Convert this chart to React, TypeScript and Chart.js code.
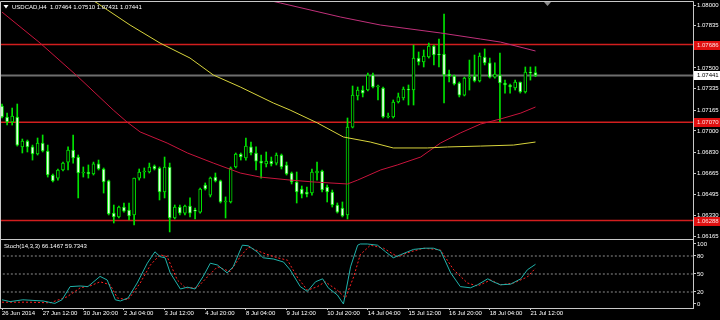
import React, { useEffect, useRef } from "react";
import { Chart, registerables } from "chart.js";

Chart.register(...registerables);

const FONT_FAMILY = "'Liberation Sans', Arial, sans-serif";
const FONT_SIZE = 6;

// ---- Candles (USDCAD H4), bar index 0 .. 105 ----
const opens = [
  1.07198, 1.07111, 1.07071, 1.07111, 1.06873, 1.0692, 1.06873, 1.06817, 1.06904, 1.06841,
  1.0665, 1.06626, 1.0669, 1.06753, 1.06849, 1.06793, 1.06666, 1.06674, 1.06658, 1.06738,
  1.06698, 1.06603, 1.06348, 1.06317, 1.06396, 1.06372, 1.06333, 1.06626, 1.06674, 1.06674,
  1.06722, 1.06706, 1.06515, 1.06714, 1.06309, 1.06396, 1.06348, 1.06404, 1.06372, 1.06356,
  1.06571, 1.06491, 1.06634, 1.06603, 1.06436, 1.06436, 1.06714, 1.06817, 1.06785, 1.06873,
  1.06825, 1.06761, 1.06738, 1.06761, 1.06745, 1.06809, 1.0673, 1.06666, 1.06595, 1.06539,
  1.06515, 1.06507, 1.06666, 1.06682, 1.06555, 1.06515, 1.06412, 1.06388, 1.06333, 1.07031,
  1.07278, 1.07325, 1.07325, 1.07444, 1.07349, 1.07341, 1.07111, 1.07111, 1.0723, 1.07262,
  1.07333, 1.07325, 1.07579, 1.07548, 1.07587, 1.07674, 1.07611, 1.07611, 1.07452, 1.07436,
  1.07381, 1.07285, 1.0742, 1.07436, 1.07397, 1.07587, 1.0754, 1.07428, 1.07444, 1.07381,
  1.07365, 1.07341, 1.07389, 1.07309, 1.07468, 1.07464,
];
const highs = [
  1.07214, 1.07142, 1.07182, 1.07214, 1.06936, 1.06928, 1.06888, 1.06944, 1.06968, 1.06888,
  1.06658, 1.06698, 1.06753, 1.06873, 1.06968, 1.06809, 1.06714, 1.0673, 1.06753, 1.06769,
  1.06706, 1.0661, 1.06412, 1.06404, 1.06428, 1.06428, 1.06626, 1.06698, 1.06706, 1.06745,
  1.0673, 1.06714, 1.06793, 1.06745, 1.06412, 1.06412, 1.06412, 1.06468, 1.06388, 1.06547,
  1.06587, 1.06634, 1.06666, 1.0661, 1.06476, 1.06714, 1.06825, 1.06825, 1.06944, 1.06912,
  1.06873, 1.06809, 1.06833, 1.06793, 1.06825, 1.06817, 1.06753, 1.06674, 1.06674, 1.06563,
  1.06555, 1.06698, 1.06753, 1.0669, 1.06571, 1.06531, 1.06428, 1.06436, 1.07103, 1.07357,
  1.07349, 1.07357, 1.0746, 1.0746, 1.07365, 1.07349, 1.07142, 1.07246, 1.07301, 1.07349,
  1.07365, 1.07682, 1.07627, 1.07643, 1.07698, 1.07682, 1.0773, 1.07929, 1.07484, 1.07444,
  1.07389, 1.07428, 1.07563, 1.07603, 1.07619, 1.07651, 1.07579, 1.0754, 1.07619, 1.07404,
  1.07373, 1.07404, 1.07389, 1.07508, 1.07508, 1.0751,
];
const lows = [
  1.07103, 1.07047, 1.07047, 1.0688, 1.06825, 1.06833, 1.06769, 1.06809, 1.06833, 1.06634,
  1.06595, 1.0661, 1.06682, 1.0669, 1.06745, 1.06468, 1.06634, 1.06626, 1.0665, 1.0669,
  1.06507, 1.06333, 1.06269, 1.06309, 1.06356, 1.06293, 1.06254, 1.0661, 1.06626, 1.06666,
  1.0669, 1.06452, 1.06468, 1.06198, 1.06301, 1.06333, 1.06333, 1.06317, 1.06301, 1.06348,
  1.06531, 1.06476, 1.06595, 1.06428, 1.06309, 1.06428, 1.06706, 1.06769, 1.06769, 1.06809,
  1.0669, 1.06626, 1.06714, 1.06722, 1.0673, 1.06698, 1.0665, 1.06579, 1.06428, 1.06468,
  1.06476, 1.06491, 1.0661, 1.06515, 1.06436, 1.06396, 1.06348, 1.06317, 1.06301, 1.07024,
  1.07246, 1.0727, 1.07317, 1.07341, 1.07246, 1.07103, 1.07103, 1.07103, 1.07222, 1.07246,
  1.07206, 1.07206, 1.07524, 1.07508, 1.07579, 1.07524, 1.07508, 1.07222, 1.07389, 1.07365,
  1.0727, 1.07278, 1.07325, 1.07389, 1.07389, 1.07524, 1.0742, 1.0742, 1.07071, 1.07301,
  1.07301, 1.07325, 1.07301, 1.07301, 1.07404, 1.07431,
];
const closes = [
  1.07111, 1.07071, 1.07119, 1.06888, 1.0692, 1.06873, 1.06817, 1.06904, 1.06841, 1.0665,
  1.06603, 1.0669, 1.06745, 1.06849, 1.06785, 1.06666, 1.06674, 1.06658, 1.06738, 1.06698,
  1.06595, 1.06341, 1.06317, 1.06396, 1.06364, 1.06325, 1.06626, 1.06674, 1.06682, 1.06714,
  1.06698, 1.06515, 1.06714, 1.06309, 1.06396, 1.06348, 1.06404, 1.06348, 1.06364, 1.06539,
  1.06539, 1.06626, 1.06603, 1.06436, 1.06444, 1.06706, 1.06817, 1.06793, 1.0688, 1.06825,
  1.06761, 1.06745, 1.06761, 1.06738, 1.06809, 1.06714, 1.06658, 1.06595, 1.06515, 1.06499,
  1.06499, 1.06674, 1.06682, 1.06531, 1.06515, 1.06412, 1.06356, 1.06325, 1.07031, 1.07285,
  1.07325, 1.07301, 1.07444, 1.07349, 1.07357, 1.07111, 1.07119, 1.0723, 1.0727, 1.07333,
  1.07325, 1.07579, 1.07548, 1.07595, 1.07674, 1.07603, 1.07603, 1.07444, 1.07436, 1.07373,
  1.07285, 1.0742, 1.07428, 1.07397, 1.07595, 1.0754, 1.07428, 1.07452, 1.07381, 1.07365,
  1.07349, 1.07389, 1.07309, 1.07468, 1.0746, 1.07441,
];

// ---- Moving averages: [bar index, price] ----
const maCrimson = [
  [0, 1.07944], [7.5, 1.07698], [14.8, 1.07436], [21.9, 1.07166], [24.6, 1.07071],
  [27.2, 1.06992], [32.5, 1.06904], [36.5, 1.06825], [41.6, 1.06745], [46.9, 1.06666],
  [50.8, 1.06634], [56.7, 1.0661], [61.3, 1.06595], [68, 1.06579], [70, 1.0661],
  [74.5, 1.0669], [77.8, 1.0673], [82.4, 1.06793], [86.3, 1.06904], [90.2, 1.06984],
  [94.2, 1.07055], [98.1, 1.07095], [102.1, 1.07142], [105, 1.0719],
];
const maYellow = [
  [16.4, 1.08076], [18.7, 1.08016], [25.2, 1.07841], [31.1, 1.07698], [37, 1.07579],
  [41.6, 1.07444], [46.9, 1.07349], [53.4, 1.07222], [56.7, 1.07166], [62.1, 1.07063],
  [67.2, 1.06952], [72.5, 1.06912], [77, 1.06865], [83.7, 1.06865], [87.7, 1.06873],
  [94.2, 1.0688], [100.7, 1.06888], [105, 1.06912],
];
const maMagenta = [
  [48.9, 1.08071], [54.8, 1.08016], [66.6, 1.07905], [74.5, 1.07841], [86.3, 1.07778],
  [94.2, 1.0773], [98.1, 1.07706], [105, 1.07635],
];

// ---- Stochastic(14,3,3): [bar index, value] ----
const stochK = [
  [0, 7], [1.6, 4], [4.1, 7], [8.1, 5], [10.4, 1], [11.8, 7], [13.4, 29], [15.4, 30], [16.9, 29],
  [19.3, 46], [20.7, 40], [22.3, 7], [23.3, 5], [24.8, 10], [26.6, 35], [28.6, 68], [30.1, 87],
  [31.1, 79], [32.1, 77], [33.1, 52], [35.1, 25], [36.5, 28], [38, 25], [39.6, 46], [41, 68],
  [42.4, 65], [44.3, 52], [45.5, 62], [47.3, 98], [48.5, 97], [50.2, 87], [51.4, 77], [53.4, 75],
  [55.4, 70], [56.7, 57], [58.7, 29], [60.1, 21], [61.7, 37], [63.1, 42], [64.2, 27], [66, 15],
  [67.2, 0], [68.6, 62], [70, 98], [70.5, 100], [71.9, 100], [73.9, 98], [75.5, 87], [77, 77],
  [78.4, 82], [81, 91], [83.3, 93], [84.9, 93], [86.3, 89], [88.3, 52], [90.2, 29], [92.2, 27],
  [93.6, 32], [95.6, 42], [96.7, 37], [98.1, 32], [100.1, 33], [102.1, 42], [103.4, 57], [105, 66.1467],
];
const stochD = [
  [0, 3], [5.5, 3], [9.5, 2], [12.8, 12], [15.4, 27], [17.3, 30], [19.3, 37], [21.3, 32], [22.7, 10],
  [24.8, 7], [27.2, 35], [29.2, 65], [31.1, 82], [32.5, 79], [34.5, 40], [36.1, 27], [38.4, 27],
  [40.4, 45], [42.4, 62], [44.9, 54], [46.9, 79], [48.5, 95], [51.4, 85], [54.2, 77], [56.2, 73],
  [58.1, 45], [60.1, 23], [62.1, 29], [63.6, 37], [66, 23], [67.6, 10], [69.2, 45], [70.5, 82],
  [72.5, 98], [75.1, 93], [77.8, 79], [80.4, 87], [83, 93], [86.3, 90], [88.9, 57], [91.6, 35],
  [93.6, 30], [96.2, 40], [98.1, 32], [100.7, 35], [103.4, 45], [105, 59.7343],
];

// ---- Levels and ticks ----
const redLevels = [1.07686, 1.0707, 1.06288];
const bidLevel = 1.07441;
const stochLevels = [20, 50, 80];
const priceTicks = [1.08, 1.07835, 1.07665, 1.075, 1.07335, 1.07165, 1.07, 1.0683, 1.06665, 1.06495, 1.0633, 1.06165];
const stochTicks = [0, 20, 50, 80, 100];
const timeLabels = [
  "26 Jun 2014", "27 Jun 12:00", "30 Jun 20:00", "2 Jul 04:00", "3 Jul 12:00", "4 Jul 20:00", "8 Jul 04:00",
  "9 Jul 12:00", "10 Jul 20:00", "14 Jul 04:00", "15 Jul 12:00", "16 Jul 20:00", "18 Jul 04:00", "21 Jul 12:00",
];
const timeLabelBars = [0, 8, 16, 24, 32, 40, 48, 56, 64, 72, 80, 88, 96, 104];

const X_MIN = -0.2;
const X_MAX = 136;
const P_MIN = 1.0615;
const P_MAX = 1.08024;
const S_MIN = -6.67;
const S_MAX = 108.33;

const CANDLE = "#00e400";
const BEAR_FILL = "#e6ffe6";
const BULL_FILL = "#000000";
const BORDER = "#c8c8c8";
const TEXT = "#ffffff";
const font = { family: FONT_FAMILY, size: FONT_SIZE };

const toXY = (pts: number[][]) => pts.map(([x, y]) => ({ x, y }));
const hline = (v: number) => [{ x: X_MIN - 2, y: v }, { x: X_MAX + 2, y: v }];

const mainDecor = {
  id: "mainDecor",
  afterDraw(chart: any) {
    const { ctx, chartArea: a, scales } = chart;
    const ys = scales.y;
    ctx.save();
    ctx.strokeStyle = BORDER;
    ctx.lineWidth = 1;
    ctx.beginPath();
    ctx.moveTo(0.5, a.bottom + 1);
    ctx.lineTo(0.5, a.top - 0.5);
    ctx.lineTo(a.right + 0.5, a.top - 0.5);
    ctx.lineTo(a.right + 0.5, a.bottom + 1);
    ctx.stroke();

    ctx.font = `${FONT_SIZE}px ${FONT_FAMILY}`;
    ctx.textBaseline = "middle";
    ctx.textAlign = "left";
    const box = (v: number, bg: string, fg: string) => {
      const py = ys.getPixelForValue(v);
      ctx.fillStyle = bg;
      ctx.fillRect(a.right + 1, Math.round(py) - 4, 27, 9);
      ctx.fillStyle = fg;
      ctx.fillText(v.toFixed(5), a.right + 4, Math.round(py) + 0.5);
    };
    redLevels.forEach((v) => box(v, "#e01010", "#ffe0e0"));
    box(bidLevel, "#ffffff", "#000000");

    // title
    const n = opens.length - 1;
    ctx.fillStyle = TEXT;
    ctx.fillText(
      `USDCAD,H4  ${opens[n].toFixed(5)} ${highs[n].toFixed(5)} ${lows[n].toFixed(5)} ${closes[n].toFixed(5)}`,
      12, 7.5
    );
    ctx.beginPath();
    ctx.moveTo(3.5, 5);
    ctx.lineTo(8.5, 5);
    ctx.lineTo(6, 8.5);
    ctx.closePath();
    ctx.fill();

    // chart shift marker
    ctx.fillStyle = "#8a8a8a";
    ctx.beginPath();
    ctx.moveTo(544, 2);
    ctx.lineTo(551, 2);
    ctx.lineTo(547.5, 6);
    ctx.closePath();
    ctx.fill();
    ctx.restore();
  },
};

const stochDecor = {
  id: "stochDecor",
  afterDraw(chart: any) {
    const { ctx, chartArea: a } = chart;
    ctx.save();
    ctx.strokeStyle = BORDER;
    ctx.lineWidth = 1;
    ctx.strokeRect(0.5, a.top + 0.5, a.right, a.bottom - a.top);
    ctx.font = `${FONT_SIZE}px ${FONT_FAMILY}`;
    ctx.textBaseline = "middle";
    ctx.textAlign = "left";
    ctx.fillStyle = TEXT;
    const k = stochK[stochK.length - 1][1];
    const d = stochD[stochD.length - 1][1];
    ctx.fillText(`Stoch(14,3,3) ${k.toFixed(4)} ${d.toFixed(4)}`, 4, a.top + 7);
    ctx.restore();
  },
};

const noPad = (s: any) => {
  s.paddingTop = 0;
  s.paddingBottom = 0;
  s.paddingLeft = 0;
  s.paddingRight = 0;
};

export default function App() {
  const mainRef = useRef<HTMLCanvasElement>(null);
  const stochRef = useRef<HTMLCanvasElement>(null);

  useEffect(() => {
    const idx = opens.map((_, i) => i);
    const lineDs = (pts: number[][], color: string, order: number) => ({
      type: "line" as const,
      data: toXY(pts),
      borderColor: color,
      borderWidth: 1,
      pointRadius: 0,
      fill: false,
      tension: 0,
      order,
    });

    const main = new Chart(mainRef.current as HTMLCanvasElement, {
      type: "bar",
      data: {
        datasets: [
          lineDs(maMagenta, "#c0307a", 0),
          lineDs(maYellow, "#d8d43c", 0),
          lineDs(maCrimson, "#c8143c", 0),
          {
            type: "bar",
            data: idx.map((i) => ({ x: i, y: [opens[i], closes[i]] })),
            backgroundColor: idx.map((i) => (closes[i] >= opens[i] ? BULL_FILL : BEAR_FILL)),
            borderColor: CANDLE,
            borderWidth: 1,
            borderSkipped: false,
            barThickness: 3,
            minBarLength: 1,
            grouped: false,
            order: 1,
          } as any,
          {
            type: "bar",
            data: idx.map((i) => ({ x: i, y: [lows[i], highs[i]] })),
            backgroundColor: CANDLE,
            borderWidth: 0,
            barThickness: 1,
            grouped: false,
            order: 2,
          } as any,
          ...redLevels.map((v) => ({
            type: "line" as const,
            data: hline(v),
            borderColor: "#d21e1e",
            borderWidth: 1.5,
            pointRadius: 0,
            order: 3,
          })),
          {
            type: "line" as const,
            data: hline(bidLevel),
            borderColor: "#6e6e6e",
            borderWidth: 2,
            pointRadius: 0,
            order: 3,
          },
        ] as any,
      },
      options: {
        responsive: false,
        animation: false,
        events: [],
        layout: { padding: { left: 1, top: 2, right: 0, bottom: 1 } },
        plugins: { legend: { display: false }, tooltip: { enabled: false }, title: { display: false } },
        scales: {
          x: { type: "linear", min: X_MIN, max: X_MAX, display: false, offset: false },
          y: {
            type: "linear",
            position: "right",
            min: P_MIN,
            max: P_MAX,
            afterBuildTicks: (s: any) => {
              s.ticks = priceTicks.map((v) => ({ value: v }));
            },
            afterFit: (s: any) => {
              s.width = 27;
              noPad(s);
            },
            ticks: {
              color: TEXT,
              font,
              padding: 1,
              autoSkip: false,
              callback: (v: any) => Number(v).toFixed(5),
            },
            grid: { drawOnChartArea: false, drawTicks: true, tickLength: 3, color: BORDER },
            border: { display: false },
          },
        },
      } as any,
      plugins: [mainDecor],
    });

    const stoch = new Chart(stochRef.current as HTMLCanvasElement, {
      type: "line",
      data: {
        datasets: [
          {
            data: toXY(stochK),
            borderColor: "#20b2aa",
            borderWidth: 1,
            pointRadius: 0,
            tension: 0,
          },
          {
            data: toXY(stochD),
            borderColor: "#ff2020",
            borderWidth: 1,
            borderDash: [2, 2],
            pointRadius: 0,
            tension: 0,
          },
          ...stochLevels.map((v) => ({
            data: hline(v),
            borderColor: "#8c8c8c",
            borderWidth: 1,
            borderDash: [2, 2],
            pointRadius: 0,
          })),
        ],
      },
      options: {
        responsive: false,
        animation: false,
        events: [],
        layout: { padding: { left: 1, top: 1, right: 0, bottom: 0 } },
        plugins: { legend: { display: false }, tooltip: { enabled: false } },
        scales: {
          x: {
            type: "linear",
            min: X_MIN,
            max: X_MAX,
            position: "bottom",
            offset: false,
            afterBuildTicks: (s: any) => {
              s.ticks = timeLabelBars.map((v) => ({ value: v }));
            },
            afterFit: (s: any) => {
              s.height = 12;
              noPad(s);
            },
            ticks: {
              autoSkip: false,
              maxRotation: 0,
              minRotation: 0,
              align: "start",
              padding: 0,
              color: TEXT,
              font,
              callback: (_v: any, i: number) => timeLabels[i],
            },
            grid: { drawOnChartArea: false, drawTicks: true, tickLength: 2, color: BORDER },
            border: { display: false },
          },
          y: {
            type: "linear",
            position: "right",
            min: S_MIN,
            max: S_MAX,
            afterBuildTicks: (s: any) => {
              s.ticks = stochTicks.map((v) => ({ value: v }));
            },
            afterFit: (s: any) => {
              s.width = 27;
              noPad(s);
            },
            ticks: {
              color: TEXT,
              font,
              padding: 1,
              autoSkip: false,
              callback: (v: any) => String(v),
            },
            grid: { drawOnChartArea: false, drawTicks: true, tickLength: 3, color: BORDER },
            border: { display: false },
          },
        },
      } as any,
      plugins: [stochDecor],
    });

    return () => {
      main.destroy();
      stoch.destroy();
    };
  }, []);

  return (
    <div style={{ position: "fixed", left: 0, top: 0, width: 720, height: 320, background: "#000", overflow: "hidden" }}>
      <canvas ref={mainRef} width={720} height={239} style={{ position: "absolute", left: 0, top: 0, display: "block" }} />
      <canvas ref={stochRef} width={720} height={82} style={{ position: "absolute", left: 0, top: 238, display: "block" }} />
    </div>
  );
}
